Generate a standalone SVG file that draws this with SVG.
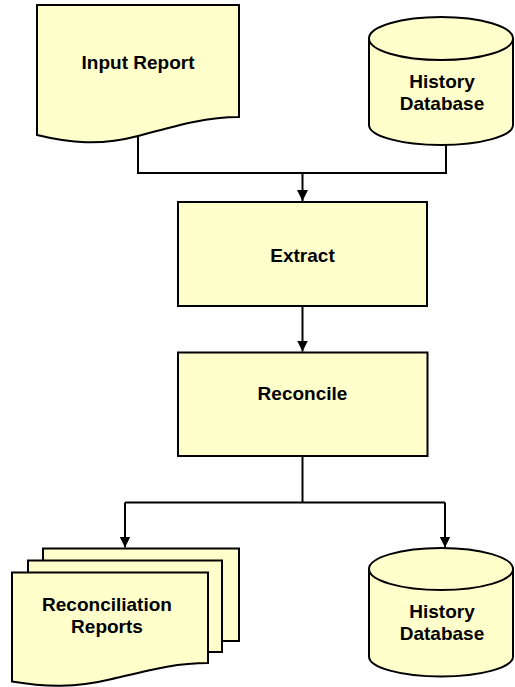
<svg xmlns="http://www.w3.org/2000/svg" width="515" height="687" viewBox="0 0 515 687">
  <defs>
    <style>
      .shape { fill: #FFFFCC; stroke: #000; stroke-width: 2; stroke-linejoin: miter; }
      .line { fill: none; stroke: #000; stroke-width: 2; }
      .lbl { font-family: "Liberation Sans", Arial, sans-serif; font-weight: bold; font-size: 19px; fill: #000; text-anchor: middle; }
    </style>
    <marker id="arrow" markerUnits="userSpaceOnUse" markerWidth="12" markerHeight="12" refX="11" refY="5.5" orient="auto">
      <path d="M0,0 L11,5.5 L0,11 Z" fill="#000"/>
    </marker>
  </defs>
  <rect width="515" height="687" fill="#fff"/>

  <g id="connectors">
    <polyline class="line" points="138,137 138,173 446,173 446,145"/>
    <line class="line" x1="302.5" y1="173" x2="302.5" y2="201" marker-end="url(#arrow)"/>
    <line class="line" x1="302.5" y1="306" x2="302.5" y2="351.5" marker-end="url(#arrow)"/>
    <polyline class="line" points="302.5,456 302.5,502.5"/>
    <polyline class="line" points="125,502.5 445,502.5"/>
    <line class="line" x1="125" y1="502.5" x2="125" y2="547.5" marker-end="url(#arrow)"/>
    <line class="line" x1="445" y1="502.5" x2="445" y2="547.5" marker-end="url(#arrow)"/>
  </g>

  <g id="input-report">
    <path class="shape" d="M37,5 H239 V117 C205,117 175,126 138,136 C100,146 70,143 37,135 Z"/>
    <text class="lbl" x="138" y="69">Input Report</text>
  </g>

  <g id="history-db-top">
    <path class="shape" d="M369,38.5 V125 A72,20 0 0 0 513,125 V38.5 A72,21.5 0 0 0 369,38.5 Z"/>
    <path class="line" d="M369,38.5 A72,21.5 0 0 0 513,38.5"/>
    <text class="lbl" x="442" y="87.5">History</text>
    <text class="lbl" x="442" y="110">Database</text>
  </g>

  <g id="extract">
    <rect class="shape" x="178" y="202" width="249" height="104"/>
    <text class="lbl" x="302.5" y="261.5">Extract</text>
  </g>

  <g id="reconcile">
    <rect class="shape" x="178" y="352.5" width="249.5" height="103.5"/>
    <text class="lbl" x="302.5" y="400">Reconcile</text>
  </g>

  <g id="reconciliation-reports">
    <rect class="shape" x="43" y="548.5" width="196" height="92.5"/>
    <rect class="shape" x="28" y="560.5" width="194" height="91.5"/>
    <path class="shape" d="M12,572.5 H208 V663 C175,663 150,670 112,679 C75,688 45,687 12,681.5 Z"/>
    <text class="lbl" x="107" y="610.5">Reconciliation</text>
    <text class="lbl" x="107" y="632.5">Reports</text>
  </g>

  <g id="history-db-bottom">
    <path class="shape" d="M369,569 V656.5 A72,20 0 0 0 513,656.5 V569 A72,21 0 0 0 369,569 Z"/>
    <path class="line" d="M369,569 A72,21 0 0 0 513,569"/>
    <text class="lbl" x="442" y="617.5">History</text>
    <text class="lbl" x="442" y="640">Database</text>
  </g>
</svg>
